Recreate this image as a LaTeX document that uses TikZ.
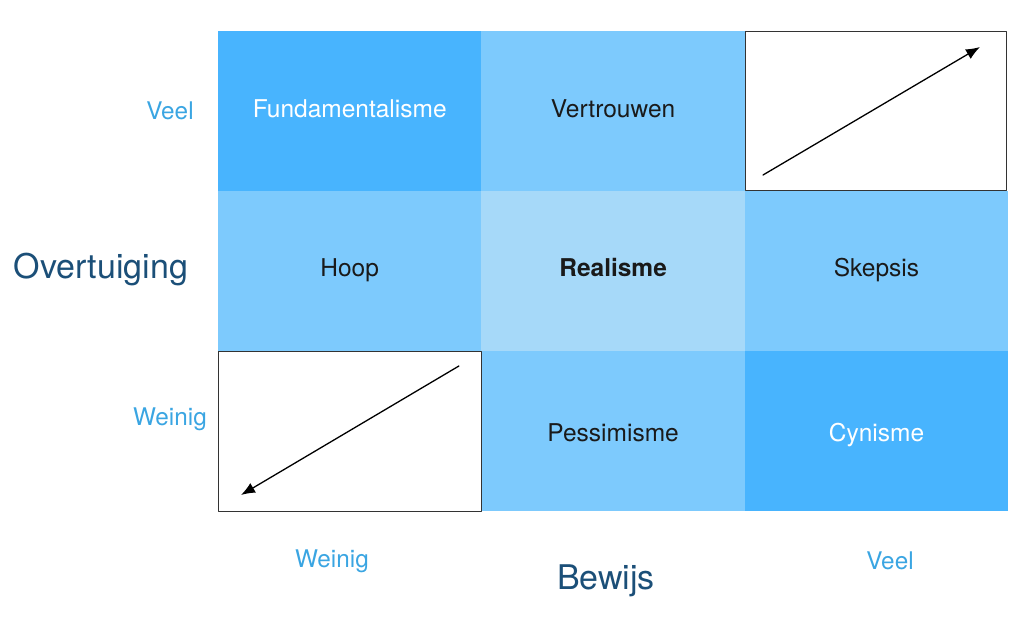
\documentclass[tikz,border=0pt]{standalone}
\usepackage{fontspec}
\setmainfont{TeX Gyre Heros}
\usetikzlibrary{arrows.meta,calc}
\definecolor{deep}{HTML}{48B4FE}
\definecolor{mid}{HTML}{7DCAFD}
\definecolor{pale}{HTML}{A6D9F9}
\definecolor{axisink}{HTML}{1B4F78}
\definecolor{tickink}{HTML}{3AA5E2}
\definecolor{ink}{HTML}{1A1A1A}

\begin{document}
\begin{tikzpicture}[x=1pt,y=-1pt,line cap=round,line join=round,>=Latex,
  cell/.style={minimum width=263.4pt,minimum height=160pt,inner sep=0pt,
    outer sep=0pt,text=ink,text height=17pt,text depth=5pt,
    font=\fontsize{24.5}{28}\selectfont},
  midrow/.style={text height=16pt,text depth=6pt},
  lowrow/.style={text height=21pt,text depth=1pt},
  blank/.style={cell,fill=white,draw=black!80,line width=0.8pt},
  tick/.style={text=tickink,font=\fontsize{24.3}{28}\selectfont},
  axislabel/.style={text=axisink,font=\fontsize{34}{40}\selectfont},
  slant/.style={line width=1.3pt,-{Latex[length=14pt,width=11pt]}}]
  \useasboundingbox (0,0) rectangle (1024,618);

  % Grid of the nine cells.
  \node[cell,fill=deep,text=white] (c11) at (349.7,111) {Fundamentalisme};
  \node[cell,fill=mid] (c12) at (613.1,111) {Vertrouwen};
  \node[cell,midrow,fill=mid] (c21) at (349.7,271) {Hoop};
  \node[cell,midrow,fill=pale,font=\fontsize{24.5}{28}\selectfont\bfseries] (c22) at (613.1,271) {Realisme};
  \node[cell,midrow,fill=mid] (c23) at (876.5,271) {Skepsis};
  \node[cell,lowrow,fill=mid] (c32) at (613.1,431) {Pessimisme};
  \node[cell,lowrow,fill=deep,text=white] (c33) at (876.5,431) {Cynisme};
  \node[blank,minimum width=261pt,minimum height=159pt] (c13) at (875.5,110.5) {};
  \node[blank] (c31) at (349.7,431) {};

  % Arrows in the two empty corners.
  \coordinate (upfrom) at ($(c13.south west)+(18,-15)$);
  \coordinate (upto) at ($(c13.north east)+(-26,16)$);
  \draw[slant] (upfrom) -- (upto);
  \coordinate (downfrom) at ($(c31.north east)+(-22.5,15)$);
  \coordinate (downto) at ($(c31.south west)+(23,-16)$);
  \draw[slant] (downfrom) -- (downto);

  % Axis labels.
  \node[tick] (yhigh) at (170,111) {Veel};
  \node[tick] (ylow) at (170,419) {Weinig};
  \node[axislabel] (yname) at (101,270) {Overtuiging};
  \node[tick] (xlow) at (332,561) {Weinig};
  \node[tick] (xhigh) at (890,561) {Veel};
  \node[axislabel] (xname) at (606,581) {Bewijs};
\end{tikzpicture}
\end{document}
